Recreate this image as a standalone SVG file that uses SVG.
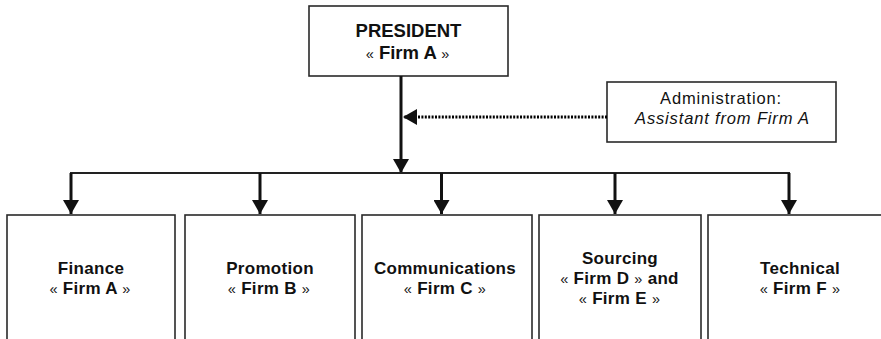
<svg xmlns="http://www.w3.org/2000/svg" width="881" height="339" viewBox="0 0 881 339">
  <style>
    .box { fill: #ffffff; stroke: #2a2a2a; stroke-width: 1.6; }
    .t { font-family: "Liberation Sans", Arial, Helvetica, sans-serif; fill: #111111; text-anchor: middle; }
    .b { font-weight: bold; font-size: 17px; letter-spacing: 0.3px; }
    .pres { font-weight: bold; font-size: 18.5px; }
    .reg { font-size: 16.5px; letter-spacing: 0.85px; }
    .it { font-style: italic; }
    .q { font-weight: normal; font-size: 14.5px; }
    .wire { fill: none; stroke: #111111; stroke-width: 3; }
    .bus { fill: none; stroke: #222222; stroke-width: 2; }
    .dots { fill: none; stroke: #000000; stroke-width: 3; stroke-dasharray: 2 1.4; }
  </style>
  <defs>
    <marker id="head" viewBox="0 0 14 16" refX="14" refY="8" markerWidth="14" markerHeight="16" markerUnits="userSpaceOnUse" orient="auto">
      <path d="M0,0 L14,8 L0,16 Z" fill="#111111"/>
    </marker>
  </defs>

  <!-- top node -->
  <g id="president">
    <rect class="box" x="309" y="6" width="199" height="70"/>
    <text class="t pres" x="408.5" y="36.5">PRESIDENT</text>
    <text class="t pres" x="407.5" y="59"><tspan class="q">«</tspan> Firm A <tspan class="q">»</tspan></text>
  </g>

  <!-- staff support node -->
  <g id="administration">
    <rect class="box" x="607" y="82" width="229" height="60"/>
    <text class="t reg" x="721" y="104">Administration:</text>
    <text class="t reg it" x="722.5" y="123.5">Assistant from Firm A</text>
  </g>

  <!-- department nodes -->
  <g id="finance">
    <rect class="box" x="7" y="215" width="168" height="140"/>
    <text class="t b" x="91" y="273.5">Finance</text>
    <text class="t b" x="90" y="294"><tspan class="q">«</tspan> Firm A <tspan class="q">»</tspan></text>
  </g>
  <g id="promotion">
    <rect class="box" x="185" y="215" width="170" height="140"/>
    <text class="t b" x="270" y="273.5">Promotion</text>
    <text class="t b" x="269" y="294"><tspan class="q">«</tspan> Firm B <tspan class="q">»</tspan></text>
  </g>
  <g id="communications">
    <rect class="box" x="362" y="215" width="170" height="140"/>
    <text class="t b" x="445" y="273.5">Communications</text>
    <text class="t b" x="445" y="294"><tspan class="q">«</tspan> Firm C <tspan class="q">»</tspan></text>
  </g>
  <g id="sourcing">
    <rect class="box" x="539" y="215" width="162" height="140"/>
    <text class="t b" x="620" y="263.5">Sourcing</text>
    <text class="t b" x="619.5" y="283.5"><tspan class="q">«</tspan> Firm D <tspan class="q">»</tspan> and</text>
    <text class="t b" x="619.5" y="303.5"><tspan class="q">«</tspan> Firm E <tspan class="q">»</tspan></text>
  </g>
  <g id="technical">
    <rect class="box" x="708" y="215" width="184" height="140"/>
    <text class="t b" x="800" y="273.5">Technical</text>
    <text class="t b" x="800" y="294"><tspan class="q">«</tspan> Firm F <tspan class="q">»</tspan></text>
  </g>

  <!-- connectors -->
  <g id="connectors">
    <line class="wire" x1="401" y1="76" x2="401" y2="173" marker-end="url(#head)"/>
    <line class="dots" x1="607" y1="117" x2="403" y2="117" marker-end="url(#head)"/>
    <line class="bus" x1="70" y1="173" x2="790" y2="173"/>
    <line class="wire" x1="71" y1="173" x2="71" y2="214" marker-end="url(#head)"/>
    <line class="wire" x1="260" y1="173" x2="260" y2="214" marker-end="url(#head)"/>
    <line class="wire" x1="441.5" y1="173" x2="441.5" y2="214" marker-end="url(#head)"/>
    <line class="wire" x1="615" y1="173" x2="615" y2="214" marker-end="url(#head)"/>
    <line class="wire" x1="789" y1="173" x2="789" y2="214" marker-end="url(#head)"/>
  </g>
</svg>
